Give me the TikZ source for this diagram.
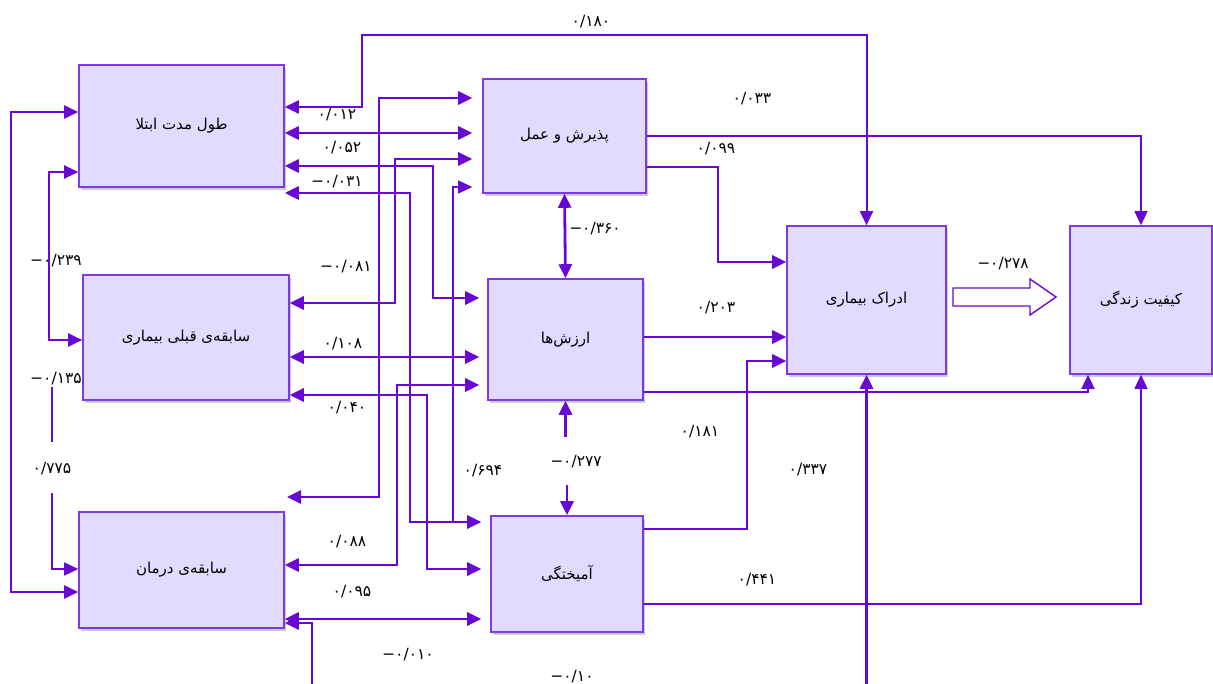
\documentclass[tikz,border=0pt]{standalone}
\usepackage{fontspec}
\usetikzlibrary{arrows.meta,shadows}
\TeXXeTstate=1
\newfontfamily\fafont[Script=Arabic]{DejaVu Sans}
\newfontfamily\numfont{DejaVu Sans}
\definecolor{lc}{RGB}{104,8,212}
\definecolor{bd}{RGB}{128,56,228}
\definecolor{bf}{RGB}{226,218,255}
\begin{document}
\begin{tikzpicture}[x=1pt,y=-1pt,
  box/.style={draw=bd,line width=1.6pt,fill=bf,inner sep=0pt,
    font=\fafont\fontsize{15}{17}\selectfont,
    drop shadow={opacity=0.4,shadow xshift=2pt,shadow yshift=-3pt}},
  thk/.style={draw=lc,line width=2.8pt},
  med/.style={draw=lc,line width=2pt},
  thn/.style={draw=lc,line width=1.4pt},
  >={Triangle[length=14pt,width=13pt]},
  lbl/.style={font=\numfont\fontsize{15.5}{17}\selectfont,inner sep=0pt}
]
\useasboundingbox[fill=white] (0,0) rectangle (1213,684);

% boxes
\node[box,minimum width=205pt,minimum height=122pt] (A) at (181.5,126) {\beginR طول مدت ابتلا\endR};
\node[box,minimum width=206pt,minimum height=125pt] (B) at (186,337.5) {\beginR سابقه‌ی قبلی بیماری\endR};
\node[box,minimum width=205pt,minimum height=116pt] (C) at (181.5,570) {\beginR سابقه‌ی درمان\endR};
\node[box,minimum width=163pt,minimum height=114pt] (D) at (564.5,136) {\beginR پذیرش و عمل\endR};
\node[box,minimum width=155pt,minimum height=121pt] (E) at (565.5,339.5) {\beginR ارزش‌ها\endR};
\node[box,minimum width=152pt,minimum height=116pt] (F) at (567,574) {\beginR آمیختگی\endR};
\node[box,minimum width=159pt,minimum height=148pt] (G) at (866.5,300) {\beginR ادراک بیماری\endR};
\node[box,minimum width=142pt,minimum height=148pt] (H) at (1141,300) {\beginR کیفیت زندگی\endR};

% left side loops
\draw[med,<->] (A.west|-0,112) -| (11,592) -- (C.west|-0,592);
\draw[med,<->] (A.west|-0,172) -| (49,340) -- (B.west|-0,340);
\coordinate (p3) at (52,387);
\coordinate (p3b) at (52,442);
\coordinate (p3c) at (52,493);
\draw[thn] (p3) -- (p3b);
\draw[thn,->] (p3c) |- (C.west|-0,569);

% top connector A - G
\draw[med,<->] (A.east|-0,107) -| (362,35) -| (G.north);

% A,B,C to D,E,F
\draw[thk,<->,shorten >=10pt] (A.east|-0,133) -- (D.west|-0,133);
\coordinate (c1) at (287,497);
\draw[thk,<->,shorten >=10pt] (c1) -| (379,98) -- (D.west|-0,98);
\draw[thk,<->,shorten >=10pt] (B.east|-0,303) -| (395,159) -- (D.west|-0,159);
\draw[thk,<->,shorten >=8pt] (A.east|-0,166) -| (433,298) -- (E.west|-0,298);
\draw[thk,<->,shorten >=9pt] (A.east|-0,193) -| (410,522) -- (F.west|-0,522);
\coordinate (j10) at (453,522);
\draw[thn,->,shorten >=10pt] (j10) |- (D.west|-0,187);
\draw[thk,<->,shorten >=8pt] (B.east|-0,357) -- (E.west|-0,357);
\draw[thk,<->,shorten >=9pt] (B.east|-0,395) -| (427,569) -- (F.west|-0,569);
\draw[thk,<->,shorten >=8pt] (C.east|-0,565) -| (397,385) -- (E.west|-0,385);
\draw[thk,<->,shorten >=9pt] (C.east|-0,619) -- (F.west|-0,619);
\coordinate (b1) at (312,684);
\draw[thk,->] (b1) |- (C.east|-0,623);
\coordinate (b2) at (866.5,684);
\draw[thk,->] (b2) -- (G.south);

% D,E,F to G,H
\draw[thn,->] (D.east|-0,136) -| (H.north);
\draw[thk,->] (D.east|-0,167) -| (718,262) -- (G.west|-0,262);
\draw[thk,<->] (D.south) -- (E.north);
\draw[thk,->] (E.east|-0,337) -- (G.west|-0,337);
\draw[thn,->] (E.east|-0,392) -| (H.south -| 1088,0);
\draw[thk,->] (F.east|-0,529) -| (747,361) -- (G.west|-0,361);
\draw[thn,->] (F.east|-0,604) -| (H.south);
\draw[thk,->] (E.south|-0,437) -- (E.south);
\draw[thk,->] (F.north|-0,485) -- (F.north);

% hollow block arrow G => H
\draw[thn,fill=white] (953,288) -- (1030,288) -- (1030,279) -- (1056,297) -- (1030,315) -- (1030,306) -- (953,306) -- cycle;

% labels
\node[lbl] (l01) at (591,22) {۰/۱۸۰};
\node[lbl] (l02) at (337,115) {۰/۰۱۲};
\node[lbl] (l03) at (342,148) {۰/۰۵۲};
\node[lbl] (l04) at (337,182) {−۰/۰۳۱};
\node[lbl] (l05) at (56,261) {−۰/۲۳۹};
\node[lbl] (l06) at (346,267) {−۰/۰۸۱};
\node[lbl] (l07) at (343,344) {۰/۱۰۸};
\node[lbl] (l08) at (56,379) {−۰/۱۳۵};
\node[lbl] (l09) at (347,408) {۰/۰۴۰};
\node[lbl] (l10) at (52,469) {۰/۷۷۵};
\node[lbl] (l11) at (347,542) {۰/۰۸۸};
\node[lbl] (l12) at (352,592) {۰/۰۹۵};
\node[lbl] (l13) at (408,655) {−۰/۰۱۰};
\node[lbl] (l14) at (483,471) {۰/۶۹۴};
\node[lbl] (l15) at (752,99) {۰/۰۳۳};
\node[lbl] (l16) at (716,149) {۰/۰۹۹};
\node[lbl] (l17) at (595,229) {−۰/۳۶۰};
\node[lbl] (l18) at (716,308) {۰/۲۰۳};
\node[lbl] (l19) at (700,432) {۰/۱۸۱};
\node[lbl] (l20) at (576,462) {−۰/۲۷۷};
\node[lbl] (l21) at (808,470) {۰/۳۳۷};
\node[lbl] (l22) at (757,580) {۰/۴۴۱};
\node[lbl] (l23) at (572,677) {−۰/۱۰};
\node[lbl] (l24) at (1003,264) {−۰/۲۷۸};
\end{tikzpicture}
\end{document}
